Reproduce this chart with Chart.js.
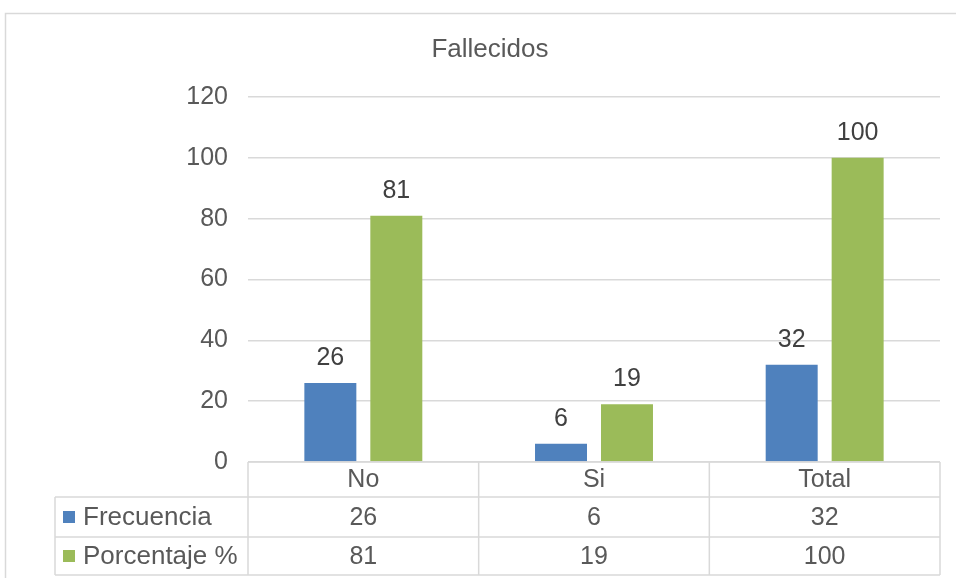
<!DOCTYPE html>
<html>
<head>
<meta charset="utf-8">
<script src="https://cdn.jsdelivr.net/npm/chart.js@4.4.1/dist/chart.umd.min.js"></script>
<style>
  body { margin: 0; background: #fff; }
</style>
</head>
<body>
<canvas id="myChart" width="956" height="578"></canvas>
<script>
// data
const categories = ["No", "Si", "Total"];
const frecuencia = [26, 6, 32];
const porcentaje = [81, 19, 100];
const seriesNames = ["Frecuencia", "Porcentaje %"];
const yTicks = [0, 20, 40, 60, 80, 100, 120];
const chartTitle = "Fallecidos";

const FONT = "'Liberation Sans', Arial, sans-serif";
const TEXT = "#595959";
const LINE = "#d9d9d9";
const colors = ["#4f81bd", "#9bbb59"];

// frame, title, value labels and the data table under the axis
const excelPlugin = {
  id: "excelPlugin",
  beforeDraw(chart) {
    const ctx = chart.ctx;
    ctx.save();
    ctx.fillStyle = "#fff";
    ctx.fillRect(0, 0, chart.width, chart.height);
    ctx.strokeStyle = LINE;
    ctx.lineWidth = 1.5;
    ctx.strokeRect(5.5, 13.5, 1000, 1000);
    ctx.fillStyle = TEXT;
    ctx.font = "26px " + FONT;
    ctx.textAlign = "center";
    ctx.textBaseline = "middle";
    ctx.fillText(chartTitle, 490, 50);
    ctx.restore();
  },
  afterDatasetsDraw(chart) {
    const ctx = chart.ctx;
    ctx.save();
    ctx.fillStyle = "#404040";
    ctx.font = "25px " + FONT;
    ctx.textAlign = "center";
    ctx.textBaseline = "middle";
    chart.data.datasets.forEach((ds, i) => {
      chart.getDatasetMeta(i).data.forEach((bar, j) => {
        ctx.fillText(String(ds.data[j]), bar.x, bar.y - 25);
      });
    });
    ctx.restore();
  },
  afterDraw(chart) {
    const ctx = chart.ctx;
    const x = chart.scales.x;
    const area = chart.chartArea;
    const n = categories.length;
    const step = (area.right - area.left) / n;
    const rows = [area.bottom, 497, 537, 575];
    const legendLeft = 55;

    ctx.save();
    ctx.strokeStyle = LINE;
    ctx.lineWidth = 1.5;
    ctx.beginPath();
    // horizontal lines
    ctx.moveTo(area.left, rows[0]); ctx.lineTo(area.right, rows[0]);
    for (let r = 1; r < rows.length; r++) {
      ctx.moveTo(legendLeft, rows[r]); ctx.lineTo(area.right, rows[r]);
    }
    // vertical lines
    for (let c = 0; c <= n; c++) {
      const px = area.left + c * step;
      ctx.moveTo(px, rows[0]); ctx.lineTo(px, rows[3]);
    }
    ctx.moveTo(legendLeft, rows[1]); ctx.lineTo(legendLeft, rows[3]);
    ctx.stroke();

    ctx.fillStyle = TEXT;
    ctx.font = "25px " + FONT;
    ctx.textAlign = "center";
    ctx.textBaseline = "middle";
    categories.forEach((c, j) => {
      const cx = x.getPixelForValue(j);
      ctx.fillText(c, cx, (rows[0] + rows[1]) / 2 + 1);
      chart.data.datasets.forEach((ds, i) => {
        ctx.fillText(String(ds.data[j]), cx, (rows[i + 1] + rows[i + 2]) / 2 + 1);
      });
    });

    ctx.textAlign = "left";
    ctx.font = "26px " + FONT;
    chart.data.datasets.forEach((ds, i) => {
      const cy = (rows[i + 1] + rows[i + 2]) / 2;
      ctx.fillStyle = colors[i];
      ctx.fillRect(63, cy - 6, 12, 12);
      ctx.fillStyle = TEXT;
      ctx.fillText(ds.label, 83, cy + 1);
    });
    ctx.restore();
  }
};

new Chart(document.getElementById("myChart"), {
  type: "bar",
  data: {
    labels: categories,
    datasets: [
      { label: seriesNames[0], data: frecuencia, backgroundColor: colors[0] },
      { label: seriesNames[1], data: porcentaje, backgroundColor: colors[1] }
    ]
  },
  options: {
    responsive: false,
    animation: false,
    devicePixelRatio: 1,
    layout: { padding: { top: 97, bottom: 116, left: 0, right: 16 } },
    datasets: {
      bar: { barPercentage: 0.788, categoryPercentage: 0.572 }
    },
    plugins: {
      legend: { display: false },
      title: { display: false },
      tooltip: { enabled: false }
    },
    scales: {
      x: { display: false },
      y: {
        min: 0,
        max: 120,
        afterFit(scale) { scale.width = 248; },
        afterBuildTicks(scale) { scale.ticks = yTicks.map(v => ({ value: v })); },
        border: { display: false },
        grid: { color: LINE, lineWidth: 1.5, drawTicks: false },
        ticks: { padding: 20, color: TEXT, font: { family: FONT, size: 25 } }
      }
    }
  },
  plugins: [excelPlugin]
});
</script>
</body>
</html>
